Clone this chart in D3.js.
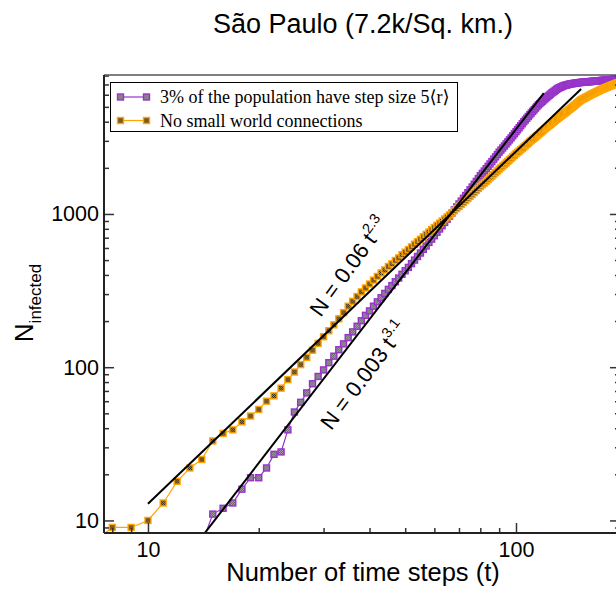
<!DOCTYPE html>
<html><head><meta charset="utf-8">
<script src="https://cdn.jsdelivr.net/npm/d3@7"></script>
<style>body{margin:0;background:#fff;} svg{display:block;}</style>
</head><body>
<svg id="c" width="616" height="589"></svg>
<script>
// ---------- data ----------
const titleText = "São Paulo (7.2k/Sq. km.)";
const xLabelText = "Number of time steps (t)";
const legendLabels = ["3% of the population have step size 5\u27E8r\u27E9", "No small world connections"];

// "No small world connections": N at t = orangeStart, orangeStart+1, ...
const orangeStart = 7;
const orangeN = [7, 9, 9, 10, 13, 18, 22, 25, 33, 37, 39, 44, 48, 53, 60, 65, 73, 83,
  93, 104, 116, 129, 143, 158, 173, 189, 207, 227, 250, 269, 289, 310, 329, 349,
  370, 391, 412, 431, 454, 473, 497, 517, 542, 563, 586, 610, 635, 659, 684, 710,
  736, 762, 789, 816, 843, 871, 899, 928, 957, 986, 1018, 1050, 1085, 1120,
  1154, 1189, 1226, 1263, 1302, 1341, 1382, 1424, 1468, 1512,
  1552, 1593, 1635, 1678, 1722, 1768, 1814, 1862, 1911, 1962,
  2008, 2055, 2104, 2153, 2204, 2256, 2309, 2363, 2418, 2474,
  2524, 2574, 2626, 2679, 2733, 2788, 2844, 2901, 2959, 3018,
  3072, 3128, 3184, 3241, 3299, 3359, 3419, 3481, 3543, 3608,
  3665, 3723, 3782, 3841, 3902, 3964, 4026, 4090, 4155, 4219,
  4277, 4335, 4395, 4455, 4516, 4578, 4641, 4704, 4769, 4836,
  4902, 4969, 5037, 5106, 5176, 5247, 5319, 5392, 5465, 5540,
  5586, 5632, 5679, 5726, 5774, 5822, 5870, 5919, 5969, 6020,
  6063, 6107, 6151, 6195, 6240, 6285, 6330, 6376, 6422, 6470,
  6507, 6544, 6581, 6619, 6657, 6695, 6733, 6772, 6811, 6850,
  6884, 6919, 6953, 6988, 7023, 7058, 7093, 7129, 7164, 7200,
  7223, 7246, 7269, 7292, 7315, 7338, 7361, 7384, 7407, 7430];

// "3% of the population have step size 5<r>": N at t = purpleStart, ...
const purpleStart = 14;
const purpleN = [7, 11, 12, 13, 16, 19, 19, 22, 27, 28, 39, 51, 59, 68, 78,
  87, 96, 107, 118, 130, 142, 156, 170, 185, 201, 218, 233, 250, 267, 284, 303,
  322, 341, 361, 382, 404, 426, 448, 474, 500, 528, 556, 588, 618, 652, 685, 721,
  759, 798, 838, 881, 924, 968, 1015, 1063, 1112, 1163,
  1213, 1266, 1320, 1377, 1437, 1499, 1563, 1631, 1701, 1776,
  1840, 1907, 1975, 2047, 2121, 2197, 2277, 2359, 2444, 2533,
  2612, 2693, 2777, 2864, 2953, 3045, 3140, 3238, 3339, 3443,
  3548, 3656, 3767, 3882, 4000, 4106, 4215, 4326, 4441, 4558,
  4671, 4786, 4904, 5025, 5150, 5246, 5344, 5444, 5546, 5650,
  5747, 5845, 5945, 6047, 6150, 6237, 6325, 6415, 6507, 6600,
  6655, 6710, 6766, 6823, 6880, 6912, 6944, 6976, 7008, 7040,
  7060, 7080, 7100, 7120, 7140, 7156, 7172, 7188, 7204, 7220,
  7230, 7240, 7250, 7260, 7270, 7280, 7290, 7300, 7310, 7320,
  7330, 7340, 7350, 7360, 7370, 7380, 7390, 7400, 7410, 7420,
  7430, 7440, 7450, 7460, 7470, 7480, 7490, 7500, 7510, 7520,
  7528, 7536, 7544, 7552, 7560, 7568, 7576, 7584, 7592, 7600,
  7608, 7616, 7624, 7632, 7640, 7648, 7656, 7664, 7672, 7680];

// power-law fit lines, endpoints [t, N]
const fitUpper = [[10, 12.85], [150.3, 6530]];
const fitLower = [[14, 7.8], [119, 6150]];
const fitUpperLabel = ["N = 0.06 t", "2.3"];
const fitLowerLabel = ["N = 0.003 t", "3.1"];

const xMajorTicks = [10, 100];
const xMinorTicks = [8, 9, 20, 30, 40, 50, 60, 70, 80, 90];
const yMajorTicks = [10, 100, 1000];
const yMinorTicks = [9, 20, 30, 40, 50, 60, 70, 80, 90, 200, 300, 400, 500, 600, 700, 800, 900,
  2000, 3000, 4000, 5000, 6000, 7000, 8000];

// ---------- layout ----------
const L = 104, R = 620, T = 75, B = 533;
const ORANGE = "#FFA500", PURPLE = "#9932CC";
const SANS = "'Liberation Sans', Arial, Helvetica, sans-serif";
const SERIF = "'Liberation Serif', 'DejaVu Serif', 'Times New Roman', serif";

const svg = d3.select("#c");
const x = d3.scaleLog().domain([7.595, 191.7]).range([L, R]);
const y = d3.scaleLog().domain([8.28, 8070]).range([B, T]);

const defs = svg.append("defs");
defs.append("clipPath").attr("id", "clip").append("rect")
  .attr("x", L).attr("y", T).attr("width", R - L).attr("height", B - T);
function checker(id, a, b) {
  const p = defs.append("pattern").attr("id", id).attr("width", 2).attr("height", 2)
    .attr("patternUnits", "userSpaceOnUse");
  p.append("rect").attr("width", 2).attr("height", 2).attr("fill", a);
  p.append("rect").attr("width", 1).attr("height", 1).attr("fill", b);
  p.append("rect").attr("x", 1).attr("y", 1).attr("width", 1).attr("height", 1).attr("fill", b);
}
checker("pchk", "#b8b8b8", "#505050");
checker("ochk", "#d09030", "#202020");

const orangeData = orangeN.map((n, i) => ({t: orangeStart + i, n}));
const purpleData = purpleN.map((n, i) => ({t: purpleStart + i, n}));

const plot = svg.append("g").attr("clip-path", "url(#clip)");
const line = d3.line().x(d => x(d.t)).y(d => y(d.n));

function drawMarker(g, color, pat) {
  g.append("rect").attr("x", -3.7).attr("y", -3.7).attr("width", 7.4).attr("height", 7.4)
    .attr("fill", color);
  g.append("rect").attr("x", -2.3).attr("y", -2.3).attr("width", 4.6).attr("height", 4.6)
    .attr("fill", `url(#${pat})`);
}
function series(data, color, pat) {
  plot.append("path").datum(data).attr("d", line).attr("fill", "none")
    .attr("stroke", color).attr("stroke-width", 1.2);
  plot.append("g").selectAll("g").data(data).join("g")
    .attr("transform", d => `translate(${x(d.t)},${y(d.n)})`)
    .each(function () { drawMarker(d3.select(this), color, pat); });
}
series(purpleData, PURPLE, "pchk");
series(orangeData, ORANGE, "ochk");

// fit lines
const fitLine = d3.line().x(d => x(d[0])).y(d => y(d[1]));
[fitUpper, fitLower].forEach(f => {
  plot.append("path").attr("d", fitLine(f)).attr("fill", "none")
    .attr("stroke", "#000").attr("stroke-width", 2);
});

// fit labels
function fitLabel(lbl, px, py, ang) {
  const t = svg.append("text").attr("transform", `translate(${px},${py}) rotate(${ang})`)
    .attr("text-anchor", "middle").attr("font-family", SANS).attr("font-size", 22).attr("fill", "#000");
  t.append("tspan").text(lbl[0]);
  t.append("tspan").attr("dy", -10).attr("font-size", 14.5).text(lbl[1]);
}
fitLabel(fitUpperLabel, 355, 271, -54);
fitLabel(fitLowerLabel, 370, 380, -53);

// axes
const axisCol = "#333";
function styleAxis(g) {
  g.select(".domain").remove();
  g.selectAll(".tick line").attr("stroke", axisCol).attr("stroke-width", 1.5);
  g.selectAll("text").attr("font-family", SANS).attr("font-size", 21.5).attr("fill", "#000");
}
svg.append("g").attr("transform", `translate(0,${B})`)
  .call(d3.axisBottom(x).tickValues(xMajorTicks).tickFormat(d3.format("d")).tickSize(-10).tickPadding(9))
  .call(styleAxis);
svg.append("g").attr("transform", `translate(0,${B})`)
  .call(d3.axisBottom(x).tickValues(xMinorTicks).tickFormat("").tickSize(-5))
  .call(styleAxis);
svg.append("g").attr("transform", `translate(${L},0)`)
  .call(d3.axisLeft(y).tickValues(yMajorTicks).tickFormat(d3.format("d")).tickSize(-10).tickPadding(5))
  .call(styleAxis);
svg.append("g").attr("transform", `translate(${L},0)`)
  .call(d3.axisLeft(y).tickValues(yMinorTicks).tickFormat("").tickSize(-5))
  .call(styleAxis);
svg.append("g").attr("transform", `translate(${R},0)`)
  .call(d3.axisRight(y).tickValues(yMajorTicks).tickFormat("").tickSize(-10))
  .call(styleAxis);
svg.append("g").attr("transform", `translate(${R},0)`)
  .call(d3.axisRight(y).tickValues(yMinorTicks).tickFormat("").tickSize(-5))
  .call(styleAxis);

// frame
svg.append("line").attr("x1", L).attr("x2", R).attr("y1", T).attr("y2", T)
  .attr("stroke", "#555").attr("stroke-width", 1.5);
svg.append("line").attr("x1", R).attr("x2", R).attr("y1", T).attr("y2", B)
  .attr("stroke", "#555").attr("stroke-width", 1.5);
svg.append("line").attr("x1", L).attr("x2", R).attr("y1", B).attr("y2", B)
  .attr("stroke", "#222").attr("stroke-width", 2);
svg.append("line").attr("x1", L).attr("x2", L).attr("y1", T).attr("y2", B)
  .attr("stroke", "#222").attr("stroke-width", 2);

// legend
const lg = svg.append("g");
lg.append("rect").attr("x", 110.5).attr("y", 82.5).attr("width", 347).attr("height", 49)
  .attr("fill", "#fff").attr("stroke", "#000").attr("stroke-width", 1);
[[PURPLE, "pchk", 97], [ORANGE, "ochk", 120.5]].forEach(([c, p, ly], i) => {
  lg.append("line").attr("x1", 118).attr("x2", 149).attr("y1", ly).attr("y2", ly)
    .attr("stroke", c).attr("stroke-width", 1.2);
  [120.5, 146.5].forEach(mx => drawMarker(lg.append("g").attr("transform", `translate(${mx},${ly})`), c, p));
  lg.append("text").attr("x", 160).attr("y", ly + 6).attr("font-family", SERIF)
    .attr("font-size", 18).attr("fill", "#000").text(legendLabels[i]);
});

// title & axis labels
svg.append("text").attr("x", 363).attr("y", 33).attr("text-anchor", "middle")
  .attr("font-family", SANS).attr("font-size", 27).attr("fill", "#000").text(titleText);
svg.append("text").attr("x", 363).attr("y", 581).attr("text-anchor", "middle")
  .attr("font-family", SANS).attr("font-size", 25.5).attr("fill", "#000").text(xLabelText);
const yl = svg.append("text").attr("transform", "translate(33,303) rotate(-90)")
  .attr("text-anchor", "middle").attr("font-family", SANS).attr("font-size", 26).attr("fill", "#000");
yl.append("tspan").text("N");
yl.append("tspan").attr("dy", 8).attr("font-size", 17).text("infected");
</script>
</body></html>
